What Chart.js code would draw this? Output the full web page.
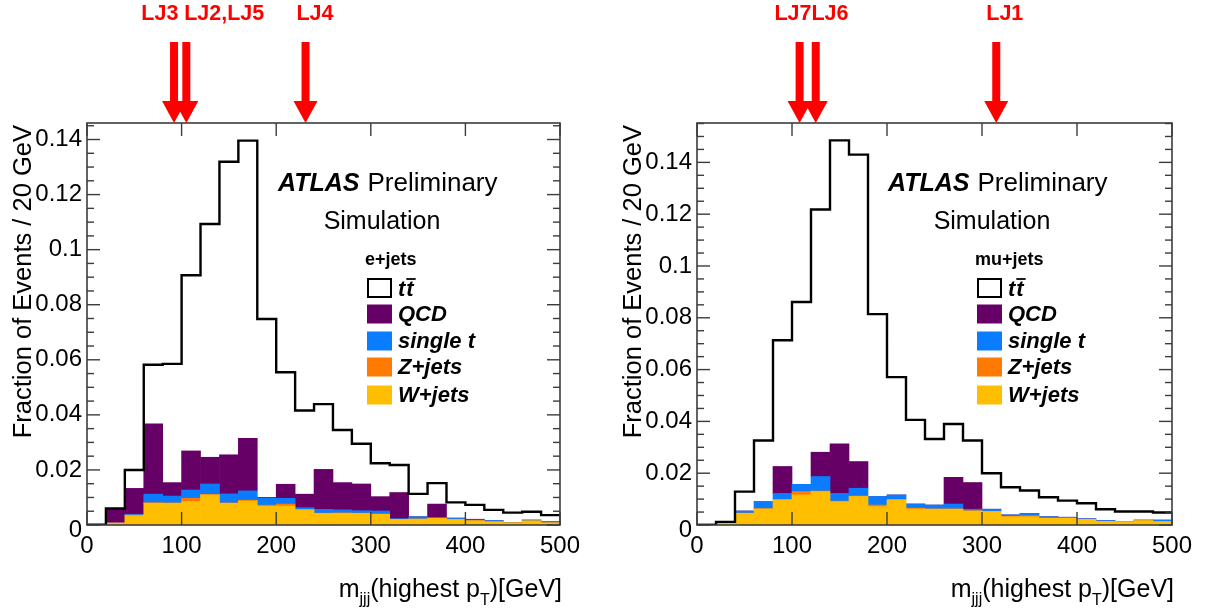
<!DOCTYPE html>
<html>
<head>
<meta charset="utf-8">
<title>m_jjj (highest pT) - ATLAS Preliminary Simulation</title>
<script src="https://cdn.jsdelivr.net/npm/chart.js@4.4.1/dist/chart.umd.min.js"></script>
<style>
  html, body { margin: 0; padding: 0; background: #fff; }
  #wrap { position: relative; width: 1205px; height: 608px; overflow: hidden; }
  canvas { position: absolute; top: 0; }
  #chart-e { left: 0; }
  #chart-mu { left: 605px; }
</style>
</head>
<body>
<div id="wrap">
  <canvas id="chart-e" width="605" height="608"></canvas>
  <canvas id="chart-mu" width="600" height="608"></canvas>
</div>
<script>
// Bins of 20 GeV (lower edges and centres)
const binLow = [0, 20, 40, 60, 80, 100, 120, 140, 160, 180, 200, 220, 240, 260, 280, 300, 320, 340, 360, 380, 400, 420, 440, 460, 480];
const binCenter = [10, 30, 50, 70, 90, 110, 130, 150, 170, 190, 210, 230, 250, 270, 290, 310, 330, 350, 370, 390, 410, 430, 450, 470, 490];
const xMax = 500;

// Axis ticks
const xTicks = [0, 100, 200, 300, 400, 500];
const yTicks = [0, 0.02, 0.04, 0.06, 0.08, 0.1, 0.12, 0.14];

// e+jets : ttbar (line) and stacked backgrounds
const ttE = [0, 0.0060, 0.0200, 0.0582, 0.0585, 0.0907, 0.1093, 0.1319, 0.1396, 0.0748, 0.0555, 0.0416, 0.0439, 0.0345, 0.0295, 0.0224, 0.0218, 0.0113, 0.0152, 0.0082, 0.0073, 0.0055, 0.0045, 0.0048, 0.0036];
const wjetsE = [0.0005, 0.0006, 0.0034, 0.0079, 0.0079, 0.0085, 0.0109, 0.0079, 0.0087, 0.0068, 0.0069, 0.0055, 0.0042, 0.0042, 0.0042, 0.0039, 0.0020, 0.0021, 0.0024, 0.0020, 0.0015, 0.0012, 0.0008, 0.0015, 0.0008];
const zjetsE = [0, 0.0002, 0.0002, 0.0002, 0.0001, 0.0012, 0.0002, 0.0001, 0.0003, 0.0004, 0.0007, 0.0001, 0.0001, 0.0002, 0.0001, 0.0001, 0.0001, 0.0001, 0.0001, 0.0001, 0.0001, 0, 0, 0, 0];
const singleTopE = [0, 0, 0.0003, 0.0031, 0.0025, 0.0030, 0.0038, 0.0033, 0.0034, 0.0025, 0.0021, 0.0007, 0.0014, 0.0011, 0.0009, 0.0011, 0.0002, 0.0008, 0.0002, 0.0004, 0.0003, 0.0004, 0.0001, 0.0003, 0.0004];
const qcdE = [0, 0.0052, 0.0094, 0.0255, 0.0049, 0.0142, 0.0097, 0.0142, 0.0191, 0.0003, 0.0051, 0.0049, 0.0145, 0.0099, 0.0097, 0.0052, 0.0095, 0, 0.0049, 0, 0.0002, 0, 0, 0, 0];

// mu+jets
const ttMu = [0, 0.0012, 0.0129, 0.0326, 0.0713, 0.0861, 0.1218, 0.1485, 0.1430, 0.0814, 0.0571, 0.0406, 0.0332, 0.0390, 0.0326, 0.0200, 0.0146, 0.0133, 0.0107, 0.0094, 0.0084, 0.0061, 0.0052, 0.0052, 0.0048];
const wjetsMu = [0.0003, 0.0012, 0.0045, 0.0062, 0.0097, 0.0116, 0.0129, 0.0090, 0.0110, 0.0071, 0.0097, 0.0062, 0.0061, 0.0061, 0.0054, 0.0052, 0.0032, 0.0032, 0.0026, 0.0026, 0.0022, 0.0014, 0.0013, 0.0017, 0.0013];
const zjetsMu = [0, 0, 0.0001, 0.0001, 0.0002, 0.0013, 0.0002, 0.0002, 0.0002, 0.0006, 0.0002, 0.0003, 0.0001, 0.0001, 0.0001, 0.0001, 0.0001, 0.0004, 0.0001, 0.0001, 0, 0, 0, 0, 0];
const singleTopMu = [0, 0, 0.0008, 0.0027, 0.0023, 0.0028, 0.0056, 0.0030, 0.0030, 0.0033, 0.0017, 0.0016, 0.0015, 0.0019, 0.0006, 0.0008, 0.0006, 0.0009, 0.0005, 0.0003, 0.0002, 0.0003, 0.0001, 0.0002, 0.0006];
const qcdMu = [0, 0, 0, 0, 0.0104, 0, 0.0094, 0.0191, 0.0103, 0, 0, 0, 0, 0.0103, 0.0103, 0, 0, 0, 0, 0, 0, 0, 0, 0, 0];

// Red arrows (GeV) and their labels
const arrowsE = [92, 105, 231];
const arrowLabelsE = ['LJ3', 'LJ2,LJ5', 'LJ4'];
const arrowLabelPosE = [77, 145, 241];
const arrowsMu = [108, 125, 315];
const arrowLabelsMu = ['LJ7', 'LJ6', 'LJ1'];
const arrowLabelPosMu = [101, 140, 324];

const FONT = '"Liberation Sans", Arial, Helvetica, sans-serif';
const colors = {
    qcd: '#660066',
    singleTop: '#0a7cff',
    zjets: '#ff7a00',
    wjets: '#ffbf00'
};

// Histogram outline: one point per lower edge + closing point at the upper edge
function stepPoints(values) {
    const pts = binLow.map((x, i) => ({ x: x, y: values[i] }));
    pts.push({ x: xMax, y: values[values.length - 1] });
    return pts;
}

function barSet(label, values, color) {
    return {
        type: 'bar',
        label: label,
        data: binCenter.map((c, i) => ({ x: c, y: values[i] })),
        backgroundColor: color,
        borderWidth: 0,
        barPercentage: 1,
        categoryPercentage: 1,
        stack: 'bkg',
        order: 1
    };
}

function line(ctx, x1, y1, x2, y2) {
    ctx.beginPath();
    ctx.moveTo(x1, y1);
    ctx.lineTo(x2, y2);
    ctx.stroke();
}

// Frame, ROOT-style inner ticks, texts, legend and arrows
const atlasDecor = {
    id: 'atlasDecor',
    afterDraw(chart, args, opts) {
        const { ctx, chartArea: a, scales: { x, y } } = chart;
        ctx.save();

        // frame + ticks
        ctx.strokeStyle = '#3c3c3c';
        ctx.lineWidth = 1.6;
        ctx.strokeRect(a.left, a.top, a.right - a.left, a.bottom - a.top);
        ctx.lineWidth = 1.4;
        xTicks.forEach(v => {
            const px = x.getPixelForValue(v);
            line(ctx, px, a.bottom, px, a.bottom - 13);
            line(ctx, px, a.top, px, a.top + 13);
        });
        for (let v = 0; v <= opts.yMax + 1e-9; v += 0.005) {
            const py = y.getPixelForValue(v);
            const major = Math.abs(v / 0.02 - Math.round(v / 0.02)) < 1e-6;
            const len = major ? 13 : 7;
            line(ctx, a.left, py, a.left + len, py);
            line(ctx, a.right, py, a.right - len, py);
        }

        // tick labels
        ctx.fillStyle = '#000';
        ctx.font = '24px ' + FONT;
        ctx.textAlign = 'center';
        ctx.textBaseline = 'middle';
        xTicks.forEach(v => ctx.fillText(String(v), x.getPixelForValue(v), 546));
        ctx.textAlign = 'right';
        yTicks.forEach(v => ctx.fillText(String(v), a.left - 5, y.getPixelForValue(v) + (v === 0 ? 5 : 0)));

        // y title (top aligned like ROOT)
        ctx.save();
        ctx.translate(opts.yTitleX, a.top + 2);
        ctx.rotate(-Math.PI / 2);
        ctx.font = '25.5px ' + FONT;
        ctx.textAlign = 'right';
        ctx.textBaseline = 'middle';
        ctx.fillText('Fraction of Events / 20 GeV', 0, 0);
        ctx.restore();

        // x title with subscripts, right aligned
        const parts = [
            { t: 'm', f: '25px ' + FONT, dy: 0 },
            { t: 'jjj', f: '16px ' + FONT, dy: 7 },
            { t: '(highest p', f: '25px ' + FONT, dy: 0 },
            { t: 'T', f: '16px ' + FONT, dy: 8 },
            { t: ')[GeV]', f: '25px ' + FONT, dy: 0 }
        ];
        let total = 0;
        parts.forEach(p => { ctx.font = p.f; p.w = ctx.measureText(p.t).width; total += p.w; });
        let tx = a.right + 2 - total;
        ctx.textAlign = 'left';
        ctx.textBaseline = 'alphabetic';
        parts.forEach(p => { ctx.font = p.f; ctx.fillText(p.t, tx, 597 + p.dy); tx += p.w; });

        // ATLAS Preliminary / Simulation
        const ax = a.left + 191;
        ctx.textBaseline = 'middle';
        ctx.font = 'italic bold 25px ' + FONT;
        ctx.fillText('ATLAS', ax, 184);
        const aw = ctx.measureText('ATLAS').width;
        ctx.font = '26px ' + FONT;
        ctx.fillText('Preliminary', ax + aw + 8, 184);
        ctx.font = '25px ' + FONT;
        ctx.textAlign = 'center';
        ctx.fillText('Simulation', a.left + 295, 222);

        // legend
        const lx = a.left + 280;
        ctx.textAlign = 'left';
        ctx.font = 'bold 18px ' + FONT;
        ctx.fillText(opts.channel, lx - 2, 260);
        const rows = [288, 314, 341, 367, 395];
        ctx.strokeStyle = '#000';
        ctx.lineWidth = 2;
        ctx.strokeRect(lx + 1, rows[0] - 9, 23, 18);
        const fills = [colors.qcd, colors.singleTop, colors.zjets, colors.wjets];
        const names = ['QCD', 'single t', 'Z+jets', 'W+jets'];
        ctx.font = 'italic bold 22px ' + FONT;
        fills.forEach((c, i) => {
            ctx.fillStyle = c;
            ctx.fillRect(lx, rows[i + 1] - 9.5, 25, 19);
            ctx.fillStyle = '#000';
            ctx.fillText(names[i], lx + 31, rows[i + 1] + 1);
        });
        // t tbar
        const tw = ctx.measureText('t').width;
        ctx.fillText('t', lx + 31, rows[0] + 2);
        ctx.fillText('t', lx + 31 + tw + 1, rows[0] + 2);
        ctx.lineWidth = 1.8;
        line(ctx, lx + 31 + tw + 1, rows[0] - 9, lx + 31 + 2 * tw + 3, rows[0] - 9);

        // red arrows with labels
        ctx.fillStyle = '#ff0000';
        opts.arrows.forEach(v => {
            const px = x.getPixelForValue(v);
            ctx.fillRect(px - 4, 42, 8, 61);
            ctx.beginPath();
            ctx.moveTo(px - 12, 101);
            ctx.lineTo(px + 12, 101);
            ctx.lineTo(px, a.top);
            ctx.closePath();
            ctx.fill();
        });
        ctx.font = 'bold 21.5px ' + FONT;
        ctx.textAlign = 'center';
        opts.labels.forEach((t, i) => ctx.fillText(t, x.getPixelForValue(opts.labelPos[i]), 14));

        ctx.restore();
    }
};

function makeChart(canvasId, cfg) {
    return new Chart(document.getElementById(canvasId), {
        data: {
            datasets: [
                {
                    type: 'line',
                    label: 'ttbar',
                    data: stepPoints(cfg.tt),
                    stepped: true,
                    borderColor: '#000',
                    borderWidth: 2.4,
                    pointRadius: 0,
                    fill: false,
                    stack: 'tt',
                    order: 0
                },
                barSet('W+jets', cfg.wjets, colors.wjets),
                barSet('Z+jets', cfg.zjets, colors.zjets),
                barSet('single t', cfg.singleTop, colors.singleTop),
                barSet('QCD', cfg.qcd, colors.qcd)
            ]
        },
        options: {
            responsive: false,
            animation: false,
            layout: { padding: cfg.padding },
            plugins: {
                legend: { display: false },
                tooltip: { enabled: false },
                atlasDecor: cfg
            },
            scales: {
                x: { type: 'linear', min: 0, max: xMax, display: false, stacked: true, offset: false },
                y: { type: 'linear', min: 0, max: cfg.yMax, display: false, stacked: true }
            }
        },
        plugins: [atlasDecor]
    });
}

makeChart('chart-e', {
    channel: 'e+jets',
    tt: ttE, wjets: wjetsE, zjets: zjetsE, singleTop: singleTopE, qcd: qcdE,
    arrows: arrowsE, labels: arrowLabelsE, labelPos: arrowLabelPosE,
    yMax: 0.146,
    yTitleX: 24,
    padding: { left: 87, right: 45, top: 123, bottom: 83 }
});

makeChart('chart-mu', {
    channel: 'mu+jets',
    tt: ttMu, wjets: wjetsMu, zjets: zjetsMu, singleTop: singleTopMu, qcd: qcdMu,
    arrows: arrowsMu, labels: arrowLabelsMu, labelPos: arrowLabelPosMu,
    yMax: 0.1552,
    yTitleX: 29,
    padding: { left: 92, right: 33, top: 123, bottom: 83 }
});
</script>
</body>
</html>
